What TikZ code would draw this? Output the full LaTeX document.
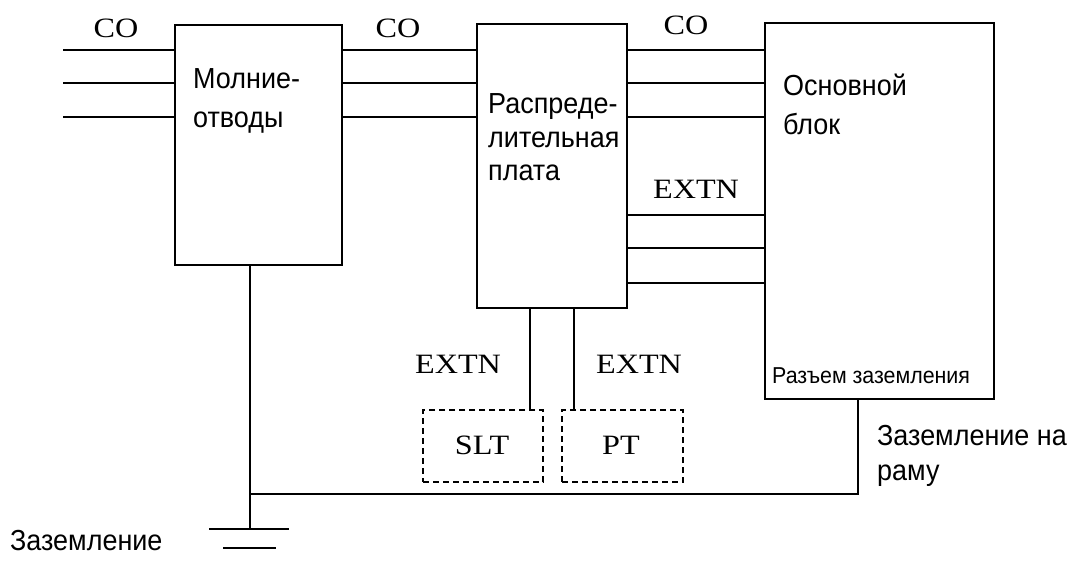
\documentclass[tikz,border=0pt]{standalone}
\usepackage{fontspec}
\setmainfont{Liberation Serif}
\setsansfont{Liberation Sans}
\newfontfamily\labfont[FakeStretch=1.15]{Liberation Serif}
\newfontfamily\rusfont[FakeStretch=0.93]{Liberation Sans}
\usetikzlibrary{positioning}

\tikzset{
  box/.style={draw, line width=1.2pt, inner sep=0pt},
  dbox/.style={draw, line width=1.1pt, dash pattern=on 6pt off 4pt, inner sep=0pt},
  wire/.style={line width=1.2pt},
  lab/.style={font=\labfont\fontsize{28}{32}\selectfont, inner sep=0pt},
  txt/.style={font=\rusfont\fontsize{29}{36}\selectfont, inner sep=0pt, anchor=base west},
}

\begin{document}
\begin{tikzpicture}[x=1pt, y=-1pt]
    \useasboundingbox (0,0) rectangle (1077,562);

    % Blocks
    \node[box, minimum width=167, minimum height=240] (la) at (258.5,145) {};
    \node[box, minimum width=150, minimum height=284] (dp) at (552,166) {};
    \node[box, minimum width=229, minimum height=376] (mb) at (879.5,211) {};
    \node[dbox, minimum width=120, minimum height=72] (slt) at (483,446) {};
    \node[dbox, minimum width=121, minimum height=72] (pt) at (622.5,446) {};

    % Texts of the blocks
    \node[txt] (tla1) at (193,88) {Молние-};
    \node[txt] (tla2) at (193,127) {отводы};
    \node[txt] (tdp1) at (488,113) {Распреде-};
    \node[txt] (tdp2) at (488,147) {лительная};
    \node[txt] (tdp3) at (488,180) {плата};
    \node[txt] (tmb1) at (783,95) {Основной};
    \node[txt] (tmb2) at (783,134) {блок};
    \node[txt, font=\rusfont\fontsize{23}{26}\selectfont] (tgc) at (772,383) {Разъем заземления};
    \node[txt] (tfg1) at (877,445) {Заземление на};
    \node[txt] (tfg2) at (877,480) {раму};
    \node[txt] (tgnd) at (10,550) {Заземление};

    % Line labels
    \node[lab] (co1) at (116,28) {CO};
    \node[lab] (co2) at (398,28) {CO};
    \node[lab] (co3) at (686,25) {CO};
    \node[lab] (ex1) at (696,189) {EXTN};
    \node[lab] (ex2) at (458,364) {EXTN};
    \node[lab] (ex3) at (639,364) {EXTN};
    \node[lab] (tslt) at (482,445) {SLT};
    \node[lab] (tpt) at (621,445) {PT};

    % CO lines
    \foreach \y [count=\i] in {50,83,117} {
        \coordinate (in\i) at (63,\y);
        \draw[wire] (in\i) -- (la.west |- in\i);
        \draw[wire] (la.east |- in\i) -- (dp.west |- in\i);
        \draw[wire] (dp.east |- in\i) -- (mb.west |- in\i);
    }
    % EXTN lines
    \foreach \y [count=\i] in {215,248,283} {
        \coordinate (ex\i) at (700,\y);
        \draw[wire] (dp.east |- ex\i) -- (mb.west |- ex\i);
    }
    \coordinate (xs) at (530,0);
    \coordinate (xp) at (574,0);
    \draw[wire] (dp.south -| xs) -- (slt.north -| xs);
    \draw[wire] (dp.south -| xp) -- (pt.north -| xp);

    % Ground
    \coordinate (gnd) at (250,529);
    \coordinate (gj) at (250,494);
    \coordinate (fr) at (858,494);
    \draw[wire] (la.south -| gnd) -- (gnd);
    \draw[wire] (gj) -- (fr) -- (mb.south -| fr);
    \draw[wire] (209,529) -- (289,529);
    \draw[wire] (223,548) -- (276,548);
\end{tikzpicture}
\end{document}
